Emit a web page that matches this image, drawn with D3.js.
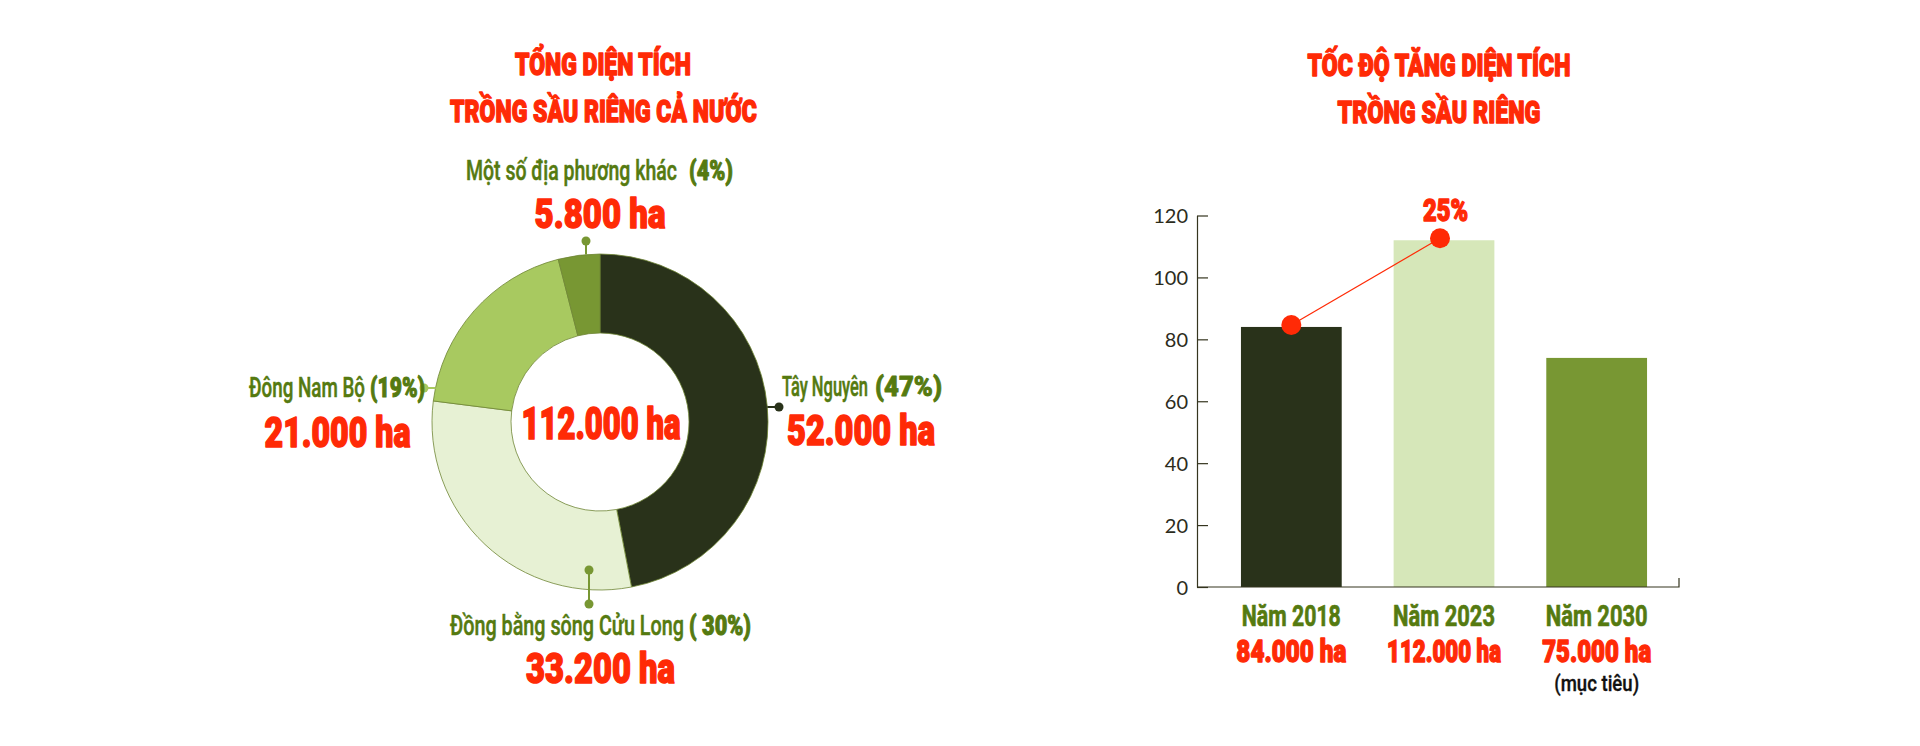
<!DOCTYPE html>
<html><head><meta charset="utf-8">
<script src="https://cdn.jsdelivr.net/npm/d3@7"></script>
<style>html,body{margin:0;padding:0;background:#fff;} svg{display:block;}</style>
</head><body>
<svg id="chart" width="1920" height="746"></svg>
<script>
// ---------- DATA ----------
const regionNames = ["Tây Nguyên", "Đồng bằng sông Cửu Long", "Đông Nam Bộ", "Một số địa phương khác"];
const regionPercents = [47, 30, 19, 4];
const regionAreas = [52000, 33200, 21000, 5800];
const totalArea = 112000;
const leftTitle = ["TỔNG DIỆN TÍCH", "TRỒNG SẦU RIÊNG CẢ NƯỚC"];
const rightTitle = ["TỐC ĐỘ TĂNG DIỆN TÍCH", "TRỒNG SẦU RIÊNG"];
const years = ["Năm 2018", "Năm 2023", "Năm 2030"];
const barValues = [84, 112, 74];          // nghìn ha (as drawn)
const barAreas = [84000, 112000, 75000];  // ha (labels)
const yTicks = [0, 20, 40, 60, 80, 100, 120];
const growthLabel = "25%";
const targetNote = "(mục tiêu)";

// ---------- STYLE ----------
const RED = "#ff2a06", OLIVE = "#557a10", AXIS = "#35351f";
const regionColors = ["#29321a", "#e7f1d4", "#a8c960", "#789733"];
const leaderColors = ["#29321a", "#789733", "#a8c960", "#789733"];
const barColors = ["#29321a", "#d6e7b9", "#789733"];
const COND = "Roboto, 'Liberation Sans', sans-serif";

const fmt = d3.formatLocale({decimal: ",", thousands: ".", grouping: [3], currency: ["", ""]}).format(",");
const svg = d3.select("#chart");

// condensed text: the font is shrunk until the line has the wanted width,
// then stretched vertically back to the wanted height.
function txt(parent, x, y, s, o) {
  const t = parent.append("text")
    .attr("x", 0).attr("y", 0)
    .attr("text-anchor", o.anchor || "middle")
    .attr("font-family", o.family || COND)
    .attr("font-size", o.size)
    .attr("font-weight", o.weight || 700)
    .attr("fill", o.fill)
    .text(s);
  let k = 1;
  if (o.width) {
    const nat = t.node().getComputedTextLength();
    k = Math.min(1, o.width / nat);
    t.attr("font-size", o.size * k);
  }
  t.attr("transform", `translate(${x},${y}) scale(1,${1 / k})`);
  if (o.bold) t.attr("stroke", o.fill).attr("stroke-width", o.bold).attr("stroke-linejoin", "round");
  return t;
}

// ---------- LEFT: DONUT ----------
const cx = 600, cy = 422, R = 168, r = 89;
const gL = svg.append("g");
txt(gL, 603, 75, leftTitle[0], {size: 31, weight: 900, fill: RED, width: 176, bold: 1.1});
txt(gL, 603.5, 122, leftTitle[1], {size: 31, weight: 900, fill: RED, width: 307, bold: 1.1});

const pie = d3.pie().sort(null).value(d => d)(regionPercents);
const arc = d3.arc().innerRadius(r).outerRadius(R);
const gD = gL.append("g").attr("transform", `translate(${cx},${cy})`);
gD.selectAll("path.slice").data(pie).join("path")
  .attr("class", "slice")
  .attr("d", arc)
  .attr("fill", (d, i) => regionColors[i])
  .attr("stroke", "#6f8535").attr("stroke-width", 0.8);

txt(gD, 1, 17, fmt(totalArea) + " ha", {size: 45, weight: 900, fill: RED, width: 159, bold: 1.2});

// leader lines (offsets from the donut centre)
const leaders = [
  {pts: [[Math.sqrt(R*R - 15*15), -15], [179, -15]]},
  {pts: [[-11, 148], [-11, 182]]},
  {pts: [[-Math.sqrt(R*R - 34*34), -34], [-176, -34]]},
  {pts: [[-14, -Math.sqrt(R*R - 14*14)], [-14, -181]]}
];
leaders.forEach((l, i) => {
  gD.append("line")
    .attr("x1", l.pts[0][0]).attr("y1", l.pts[0][1])
    .attr("x2", l.pts[1][0]).attr("y2", l.pts[1][1])
    .attr("stroke", leaderColors[i]).attr("stroke-width", 2);
  const dotIdx = i === 1 ? [0, 1] : [1];
  dotIdx.forEach(k => gD.append("circle")
    .attr("cx", l.pts[k][0]).attr("cy", l.pts[k][1]).attr("r", 4.5)
    .attr("fill", leaderColors[i]));
});

// region labels: name [x0, width], percent [x0, width], baseline; area centre, baseline, width
const regionLabelPos = [
  {nx: 782, nw: 86, px: 875, pw: 67, y: 396, ax: 861, ay: 445, aw: 148, as: 43},
  {nx: 450, nw: 234, px: 689, pw: 62, y: 635, ax: 600.5, ay: 683, aw: 149, as: 43},
  {nx: 249, nw: 116, px: 370, pw: 55, y: 397, ax: 337.5, ay: 447, aw: 146, as: 43},
  {nx: 466, nw: 211, px: 689, pw: 44, y: 180, ax: 600, ay: 228, aw: 131, as: 40}
];
regionNames.forEach((name, i) => {
  const p = regionLabelPos[i];
  txt(gL, p.nx, p.y, name, {anchor: "start", size: 27, weight: 500, fill: OLIVE, width: p.nw, bold: 0.35});
  txt(gL, p.px, p.y, (i === 1 ? "( " : "(") + regionPercents[i] + "%)",
      {anchor: "start", size: 27, weight: 900, fill: OLIVE, width: p.pw, bold: 0.8});
  txt(gL, p.ax, p.ay, fmt(regionAreas[i]) + " ha", {size: p.as, weight: 900, fill: RED, width: p.aw, bold: 1.2});
});

// ---------- RIGHT: BARS ----------
const gR = svg.append("g");
txt(gR, 1439, 76, rightTitle[0], {size: 32, weight: 900, fill: RED, width: 263, bold: 1.1});
txt(gR, 1439, 123, rightTitle[1], {size: 32, weight: 900, fill: RED, width: 203, bold: 1.1});

const axisX0 = 1197, axisX1 = 1679;
const y = d3.scaleLinear().domain([0, 120]).range([587, 215.5]);
const x = d3.scaleBand().domain(years).range([1215, 1673]).paddingInner(0.34).paddingOuter(0.17);

gR.selectAll("rect.bar").data(barValues).join("rect")
  .attr("class", "bar")
  .attr("x", (d, i) => x(years[i]))
  .attr("width", x.bandwidth())
  .attr("y", d => y(d))
  .attr("height", d => y(0) - y(d))
  .attr("fill", (d, i) => barColors[i]);

const yAxis = d3.axisLeft(y).tickValues(yTicks).tickSizeInner(-11).tickSizeOuter(0).tickPadding(9);
const gy = gR.append("g").attr("transform", `translate(${axisX0},0)`).call(yAxis);
gy.select(".domain").attr("stroke", AXIS).attr("stroke-width", 1.2);
gy.selectAll(".tick line").attr("stroke", AXIS).attr("stroke-width", 1.2);
gy.selectAll(".tick text").attr("font-family", "Lato, 'Open Sans', sans-serif")
  .attr("font-size", 20).attr("fill", "#2c2c1c").attr("dy", "0.36em");

gR.append("path")
  .attr("d", `M${axisX0},${y(0)}H${axisX1}V${y(0) - 9}`)
  .attr("fill", "none").attr("stroke", AXIS).attr("stroke-width", 1.2);

// growth line between 2018 and 2023
const pts = [0, 1].map(i => [x(years[i]) + x.bandwidth() / 2 - (i ? 4 : 0), y(barValues[i]) - 2]);
gR.append("line")
  .attr("x1", pts[0][0]).attr("y1", pts[0][1]).attr("x2", pts[1][0]).attr("y2", pts[1][1])
  .attr("stroke", RED).attr("stroke-width", 1.2);
pts.forEach(p => gR.append("circle").attr("cx", p[0]).attr("cy", p[1]).attr("r", 10).attr("fill", RED));
txt(gR, 1445.5, 221, growthLabel, {size: 32, weight: 900, fill: RED, width: 45, bold: 1.1});

// category labels
const yearW = [99, 102, 102], areaW = [110, 114, 109];
years.forEach((yr, i) => {
  const c = x(yr) + x.bandwidth() / 2;
  txt(gR, c, 626, yr, {size: 30, weight: 700, fill: OLIVE, width: yearW[i], bold: 0.5});
  txt(gR, c, 662, fmt(barAreas[i]) + " ha", {size: 30.5, weight: 900, fill: RED, width: areaW[i], bold: 1.1});
});
txt(gR, x(years[2]) + x.bandwidth() / 2, 691, targetNote, {size: 23, weight: 500, fill: "#111", width: 85, bold: 0.3});
</script>
</body></html>
